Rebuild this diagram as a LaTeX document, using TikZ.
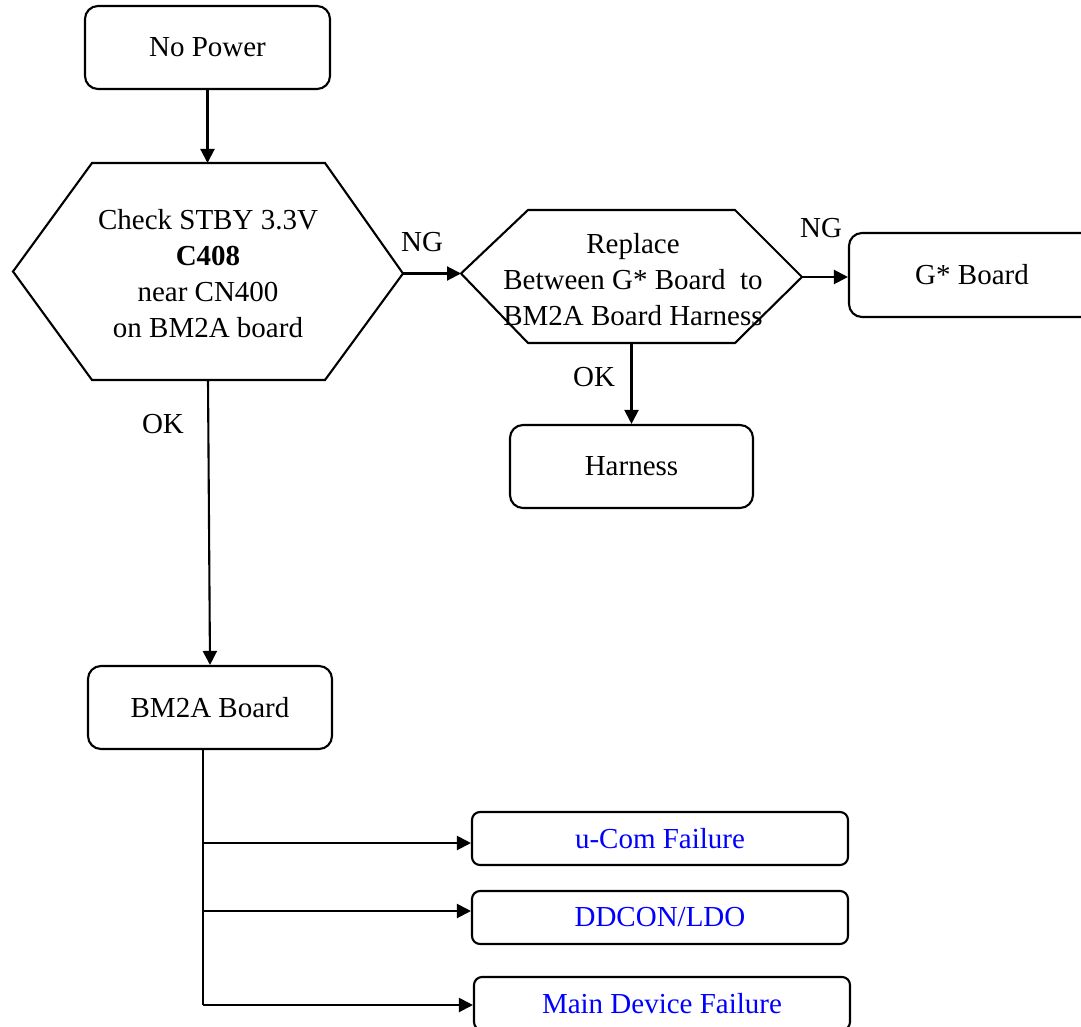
\documentclass[tikz,border=0pt]{standalone}
\usepackage{fontspec}
\setmainfont{Liberation Serif}
\usetikzlibrary{arrows.meta}
\definecolor{fblue}{RGB}{0,0,255}
\begin{document}
\begin{tikzpicture}[x=1pt,y=-1pt,line width=2.1pt,
  txt/.style={font=\fontsize{29}{36}\selectfont},
  bigbox/.style={draw,rounded corners=13pt,inner sep=0pt,txt},
  smallbox/.style={draw,rounded corners=8pt,inner sep=0pt,txt,text=fblue,minimum width=376pt,minimum height=53pt},
  lbl/.style={txt,inner sep=0pt},
  arr/.style={-{Triangle[length=14pt,width=14pt]}}]
\clip (0,0) rectangle (1081,1027);
\useasboundingbox (0,0) rectangle (1081,1027);

% start box
\node[bigbox,minimum width=245pt,minimum height=83pt] (np) at (207.5,47.5) {No Power};

% hexagon 1
\coordinate (h1L) at (13,271.5);
\coordinate (h1R) at (403,273.5);
\coordinate (h1T) at (207.5,163);
\coordinate (h1B) at (208,380);
\draw[line join=miter] (h1L) -- (92,163) -- (325,163) -- (h1R) -- (325,380) -- (92,380) -- cycle;
\node[lbl,align=center] (h1) at (208,274) {Check STBY 3.3V\\\textbf{C408}\\near CN400\\on BM2A board};

% hexagon 2
\coordinate (h2L) at (461,273.5);
\coordinate (h2R) at (802,277);
\coordinate (h2B) at (631.5,343);
\draw[line join=miter] (h2L) -- (528,210) -- (735,210) -- (h2R) -- (735,343) -- (528,343) -- cycle;
\node[lbl,align=center] (h2) at (633,280) {Replace\\Between G* Board\ \ to\\BM2A Board Harness};

% other boxes
\node[bigbox,minimum width=246pt,minimum height=84pt] (gb) at (972,275) {G* Board};
\node[bigbox,minimum width=243pt,minimum height=83pt] (hn) at (631.5,466.5) {Harness};
\node[bigbox,minimum width=244pt,minimum height=83pt] (bm) at (210,707.5) {BM2A Board};

\node[smallbox] (uc) at (660,838.5) {u-Com Failure};
\node[smallbox] (dd) at (660,917.5) {DDCON/LDO};
\node[smallbox] (md) at (662,1003.5) {Main Device Failure};

% labels
\node[lbl] (ng1) at (422,242) {NG};
\node[lbl] (ng2) at (821,228) {NG};
\node[lbl] (ok1) at (594,377) {OK};
\node[lbl] (ok2) at (163,424) {OK};

% connectors
\draw[arr] (np.south) -- (h1T);
\draw[arr] (h1R) -- (h2L);
\draw[arr] (h2R) -- ([yshift=-2pt]gb.west);
\draw[arr] (h2B) -- (hn.north);
\draw[arr] (h1B) -- (bm.north);

\coordinate (tr) at ([xshift=-7pt]bm.south);
\coordinate (tb) at (tr |- md.west);
\draw (tr) -- ([yshift=-1.5pt]tb);
\draw[arr] (tr |- 0,843) -- ([yshift=-4.5pt]uc.west);
\draw[arr] (tr |- 0,911) -- ([yshift=6.5pt]dd.west);
\draw[arr] ([yshift=-1.5pt]tb) -- ([yshift=-1.5pt]md.west);
\end{tikzpicture}
\end{document}
